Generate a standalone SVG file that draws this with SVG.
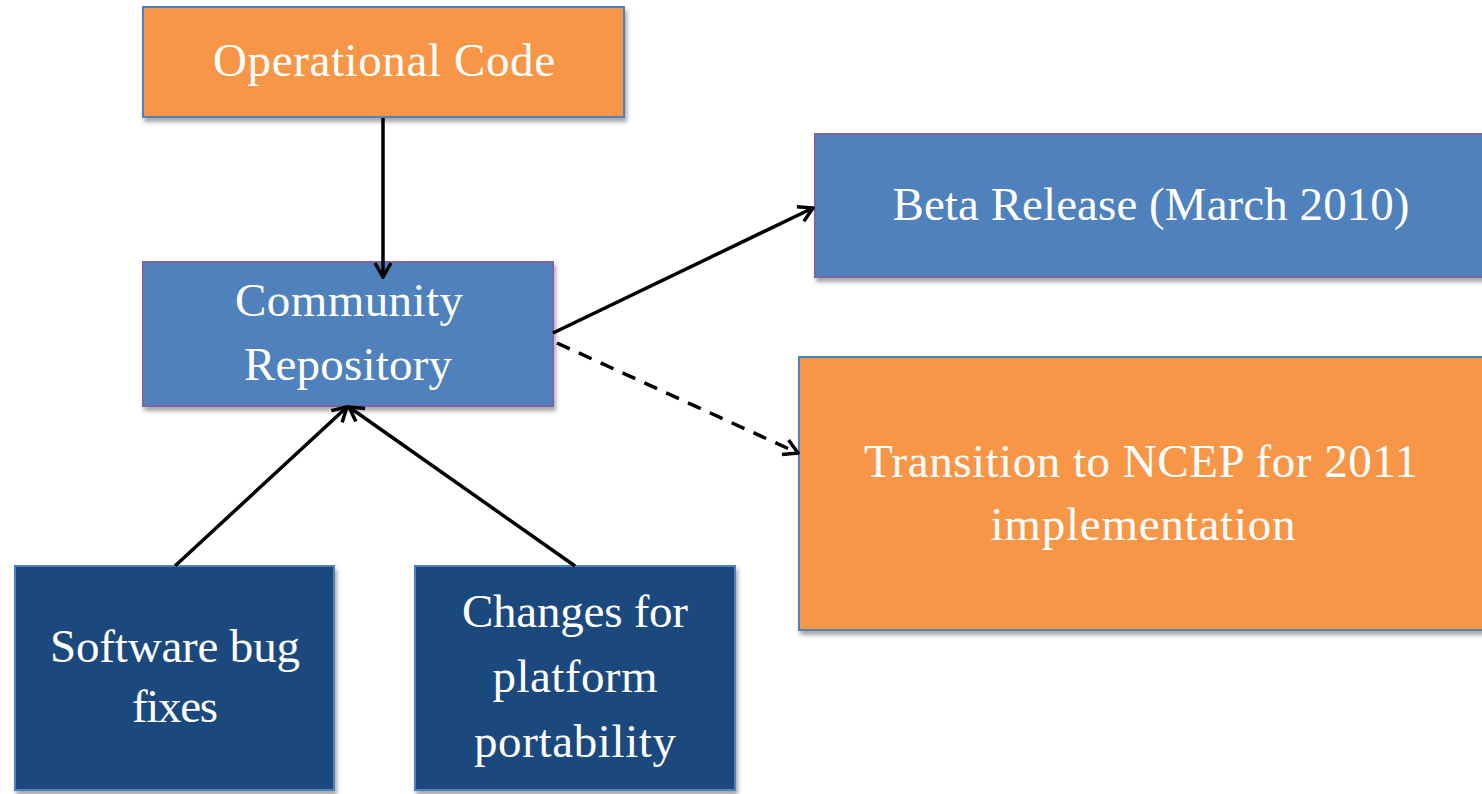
<svg xmlns="http://www.w3.org/2000/svg" width="1482" height="794" viewBox="0 0 1482 794">
<style>
.lbl{font-family:"Liberation Serif","DejaVu Serif",serif;font-size:47px;fill:#ffffff;text-anchor:middle}
.orange{fill:#F79646;stroke:#4F81BD;stroke-width:2}
.blue{fill:#4F81BD;stroke:#8064A2;stroke-width:2}
.navy{fill:#1F497D;stroke:#4F81BD;stroke-width:2}
.edge{stroke:#000;stroke-width:3.5;fill:none;marker-end:url(#arr)}
.dash{stroke-dasharray:14 10}
</style>
<defs>
<filter id="sh" x="-5%" y="-5%" width="115%" height="120%">
<feDropShadow dx="2" dy="4" stdDeviation="2" flood-color="#000" flood-opacity="0.35"/>
</filter>
<marker id="arr" viewBox="0 0 20 20" refX="18" refY="10" markerWidth="20" markerHeight="20" markerUnits="userSpaceOnUse" orient="auto">
<path d="M4,2 L18,10 L4,18" fill="none" stroke="#000" stroke-width="3.5" stroke-linejoin="miter"/>
</marker>
</defs>
<g id="n-opcode"><rect class="orange" filter="url(#sh)" x="143" y="7" width="481" height="110"/><text class="lbl" x="384" y="76" textLength="342">Operational Code</text></g>
<g id="n-community"><rect class="blue" filter="url(#sh)" x="143" y="262" width="410" height="144"/><text class="lbl" x="349" y="316" textLength="228">Community</text><text class="lbl" x="348" y="380" textLength="208">Repository</text></g>
<g id="n-beta"><rect class="blue" filter="url(#sh)" x="815" y="134" width="680" height="143"/><text class="lbl" x="1151" y="220" textLength="517">Beta Release (March 2010)</text></g>
<g id="n-transition"><rect class="orange" filter="url(#sh)" x="799" y="357" width="695" height="273"/><text class="lbl" x="1141" y="477" textLength="554">Transition to NCEP for 2011</text><text class="lbl" x="1143" y="540" textLength="305">implementation</text></g>
<g id="n-bugfix"><rect class="navy" filter="url(#sh)" x="15" y="566" width="319" height="224"/><text class="lbl" x="175" y="662" textLength="250">Software bug</text><text class="lbl" x="175" y="722" textLength="86">fixes</text></g>
<g id="n-portability"><rect class="navy" filter="url(#sh)" x="415" y="566" width="320" height="224"/><text class="lbl" x="575" y="627" textLength="226">Changes for</text><text class="lbl" x="575" y="692" textLength="165">platform</text><text class="lbl" x="575" y="757" textLength="202">portability</text></g>
<g id="connectors">
<line class="edge" x1="383" y1="118" x2="383" y2="277"/>
<line class="edge" x1="553" y1="333" x2="813" y2="208"/>
<line class="edge dash" x1="557" y1="343" x2="798" y2="453"/>
<line class="edge" x1="175" y1="566" x2="347" y2="407"/>
<line class="edge" x1="575" y1="566" x2="349" y2="407"/>
</g>
</svg>
